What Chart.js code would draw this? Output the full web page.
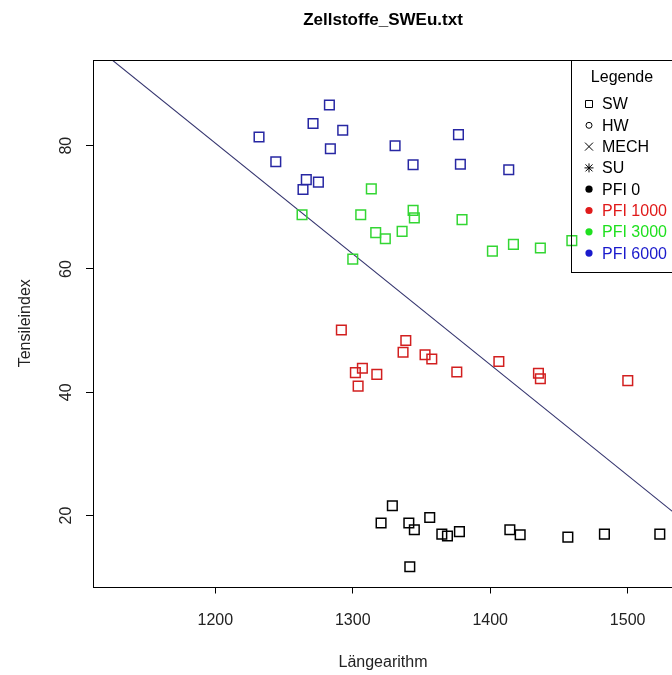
<!DOCTYPE html>
<html>
<head>
<meta charset="utf-8">
<script src="https://cdn.jsdelivr.net/npm/chart.js@4"></script>
<style>
  html, body { margin: 0; padding: 0; background: #fff; overflow: hidden; }
  canvas { display: block; }
</style>
</head>
<body>
<canvas id="chart" width="700" height="675"></canvas>
<script>
// Daten
const pfi0X = [1328.8, 1320.6, 1340.8, 1344.8, 1356.0, 1364.8, 1368.9, 1377.6, 1414.3, 1421.8, 1456.5, 1483.1, 1523.4, 1341.5];
const pfi0Y = [21.6, 18.8, 18.8, 17.7, 19.7, 17.0, 16.7, 17.4, 17.7, 16.9, 16.5, 17.0, 17.0, 11.7];
const pfi1000X = [1291.7, 1338.6, 1336.6, 1352.6, 1357.5, 1307.0, 1301.9, 1317.5, 1303.9, 1375.7, 1406.3, 1435.1, 1436.5, 1500.1];
const pfi1000Y = [50.1, 48.4, 46.5, 46.1, 45.4, 43.9, 43.2, 42.9, 41.0, 43.3, 45.0, 43.1, 42.2, 41.9];
const pfi3000X = [1313.5, 1263.1, 1305.8, 1343.9, 1344.8, 1379.5, 1316.7, 1323.7, 1335.9, 1300.0, 1401.6, 1416.9, 1436.5, 1459.4];
const pfi3000Y = [73.0, 68.8, 68.8, 69.5, 68.3, 68.0, 65.9, 64.9, 66.1, 61.6, 62.9, 64.0, 63.4, 64.6];
const pfi6000X = [1283.0, 1271.1, 1292.7, 1231.8, 1330.8, 1376.9, 1283.7, 1244.0, 1343.9, 1378.3, 1413.5, 1266.2, 1275.0, 1263.8];
const pfi6000Y = [86.6, 83.6, 82.5, 81.4, 80.0, 81.8, 79.5, 77.4, 76.9, 77.0, 76.1, 74.5, 74.1, 72.9];

// Regressionsgerade (Endpunkte an den Achsgrenzen)
const lineX = [1111, 1533];
const lineY = [96.4, 20.6];

const xTicks = [1200, 1300, 1400, 1500];
const yTicks = [20, 40, 60, 80];

const legendTitle = "Legende";
const legendLabels = ["SW", "HW", "MECH", "SU", "PFI 0", "PFI 1000", "PFI 3000", "PFI 6000"];
const legendSymbols = ["square", "circle", "cross", "star", "dot", "dot", "dot", "dot"];

const colBlack = "#000000";
const colRed = "#d21f1f";
const colGreen = "#33d633";
const colBlue = "#2727a3";
const legendColors = [colBlack, colBlack, colBlack, colBlack, colBlack, "#e01a1a", "#1fe01f", "#1a1acc"];

const FONT = "'Liberation Sans', Arial, sans-serif";

function pts(xs, ys) {
    return xs.map((x, i) => ({ x: x, y: ys[i] }));
}

function series(label, xs, ys, color) {
    return {
        type: "scatter",
        label: label,
        data: pts(xs, ys),
        pointStyle: "rect",
        pointRadius: 6.8,
        pointHoverRadius: 6.8,
        borderColor: color,
        backgroundColor: "rgba(0,0,0,0)",
        borderWidth: 1.5
    };
}

// Titel, Rahmen, y-Beschriftung, Achsentitel und Legende im R-Stil
const rStyle = {
    id: "rStyle",
    afterDraw(chart) {
        const ctx = chart.ctx;
        const a = chart.chartArea;
        const ys = chart.scales.y;
        ctx.save();

        // Rahmen
        ctx.strokeStyle = "#000";
        ctx.lineWidth = 1;
        ctx.strokeRect(Math.round(a.left) + 0.5, Math.round(a.top) + 0.5,
            Math.round(a.right - a.left), Math.round(a.bottom - a.top));

        // Titel
        ctx.fillStyle = "#000";
        ctx.font = "bold 17px " + FONT;
        ctx.textAlign = "center";
        ctx.textBaseline = "alphabetic";
        ctx.fillText("Zellstoffe_SWEu.txt", (a.left + a.right) / 2, 25);

        // x-Achsentitel
        ctx.font = "16px " + FONT;
        ctx.fillStyle = "#222";
        ctx.fillText("Längearithm", (a.left + a.right) / 2, 667);

        // y-Ticklabels (gedreht)
        yTicks.forEach(v => {
            ctx.save();
            ctx.translate(71, ys.getPixelForValue(v));
            ctx.rotate(-Math.PI / 2);
            ctx.fillText(String(v), 0, 0);
            ctx.restore();
        });

        // y-Achsentitel
        ctx.save();
        ctx.translate(30, (a.top + a.bottom) / 2);
        ctx.rotate(-Math.PI / 2);
        ctx.fillText("Tensileindex", 0, 0);
        ctx.restore();

        // Legende
        const lx = 571, ly = 60, lb = 272;
        ctx.strokeStyle = "#000";
        ctx.lineWidth = 1;
        ctx.strokeRect(lx + 0.5, ly + 0.5, a.right - lx, lb - ly);
        ctx.fillStyle = "#000";
        ctx.textAlign = "center";
        ctx.fillText(legendTitle, (lx + a.right) / 2, 82);

        ctx.textAlign = "left";
        ctx.textBaseline = "middle";
        legendLabels.forEach((lab, i) => {
            const cy = 104 + i * 21.3;
            const sx = 589;
            const c = legendColors[i];
            ctx.strokeStyle = c;
            ctx.fillStyle = c;
            ctx.lineWidth = 1;
            const sym = legendSymbols[i];
            ctx.beginPath();
            if (sym === "square") {
                ctx.rect(sx - 3.5, cy - 3.5, 7, 7);
                ctx.stroke();
            } else if (sym === "circle") {
                ctx.arc(sx, cy, 3, 0, Math.PI * 2);
                ctx.stroke();
            } else if (sym === "cross") {
                ctx.moveTo(sx - 4, cy - 4); ctx.lineTo(sx + 4, cy + 4);
                ctx.moveTo(sx + 4, cy - 4); ctx.lineTo(sx - 4, cy + 4);
                ctx.stroke();
            } else if (sym === "star") {
                ctx.moveTo(sx - 4.5, cy); ctx.lineTo(sx + 4.5, cy);
                ctx.moveTo(sx - 3.5, cy - 3.5); ctx.lineTo(sx + 3.5, cy + 3.5);
                ctx.moveTo(sx + 3.5, cy - 3.5); ctx.lineTo(sx - 3.5, cy + 3.5);
                ctx.moveTo(sx, cy - 4.5); ctx.lineTo(sx, cy + 4.5);
                ctx.stroke();
            } else {
                ctx.arc(sx, cy, 3.6, 0, Math.PI * 2);
                ctx.fill();
            }
            ctx.fillStyle = c;
            ctx.fillText(lab, 602, cy + 1);
        });

        ctx.restore();
    }
};

new Chart(document.getElementById("chart").getContext("2d"), {
    data: {
        datasets: [
            series("PFI 0", pfi0X, pfi0Y, colBlack),
            series("PFI 1000", pfi1000X, pfi1000Y, colRed),
            series("PFI 3000", pfi3000X, pfi3000Y, colGreen),
            series("PFI 6000", pfi6000X, pfi6000Y, colBlue),
            {
                type: "line",
                label: "Gerade",
                data: pts(lineX, lineY),
                borderColor: "#34346e",
                borderWidth: 1.1,
                pointRadius: 0,
                fill: false
            }
        ]
    },
    options: {
        responsive: false,
        animation: false,
        devicePixelRatio: 1,
        layout: { padding: { left: 0, right: 27, top: 60, bottom: 0 } },
        plugins: {
            legend: { display: false },
            title: { display: false },
            tooltip: { enabled: false }
        },
        scales: {
            x: {
                type: "linear",
                min: 1111,
                max: 1533,
                afterBuildTicks: s => { s.ticks = xTicks.map(v => ({ value: v })); },
                afterFit: s => { s.height = 88.5; },
                border: { display: false },
                grid: { display: true, drawOnChartArea: false, drawTicks: true, tickLength: 7, color: "#000", lineWidth: 1 },
                ticks: {
                    font: { family: FONT, size: 16 },
                    color: "#222",
                    padding: 17,
                    maxRotation: 0,
                    autoSkip: false,
                    callback: v => String(v)
                }
            },
            y: {
                type: "linear",
                min: 8.5,
                max: 93.9,
                afterBuildTicks: s => { s.ticks = yTicks.map(v => ({ value: v })); },
                afterFit: s => { s.width = 93; },
                border: { display: false },
                grid: { display: true, drawOnChartArea: false, drawTicks: true, tickLength: 7, color: "#000", lineWidth: 1 },
                ticks: { color: "rgba(0,0,0,0)", font: { family: FONT, size: 16 } }
            }
        }
    },
    plugins: [rStyle]
});
</script>
</body>
</html>
